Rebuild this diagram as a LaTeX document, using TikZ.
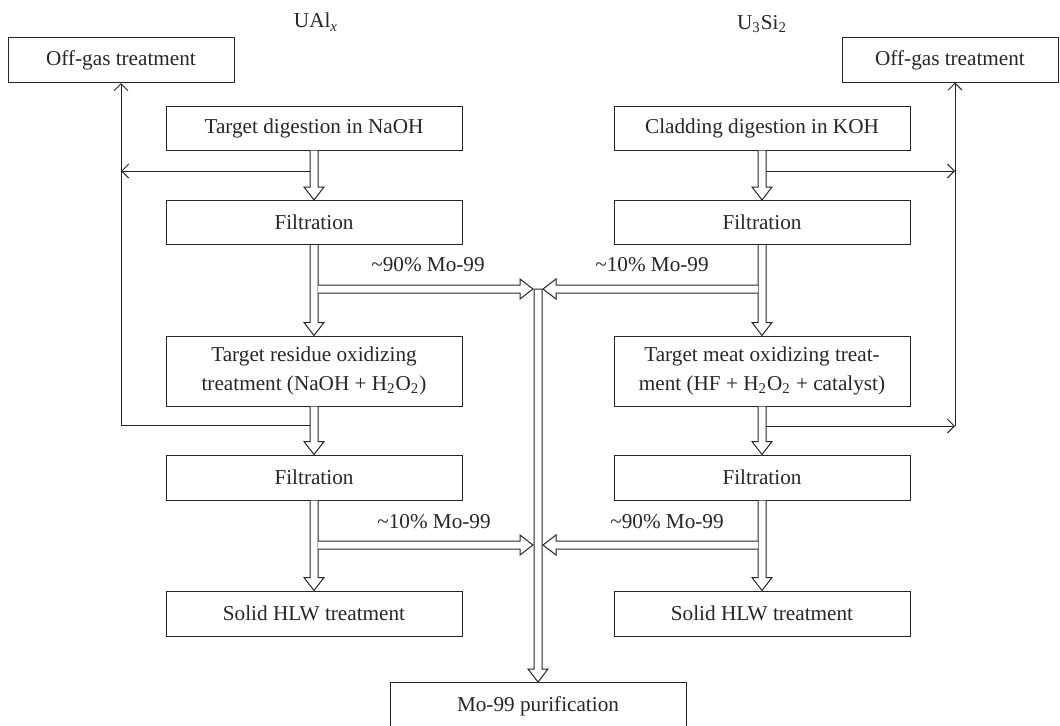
\documentclass[tikz,border=0pt]{standalone}
\usepackage{fontspec}
\setmainfont{Liberation Serif}
\usetikzlibrary{arrows.meta,calc}
\newcommand{\vdarrow}[2]{\draw[hollow] let \p1=(#1), \p2=(#2) in (\x1-2pt,\y1) -- (\x1-2pt,\y2+6.5pt) -- (\x1-5pt,\y2+6.5pt) -- (\x1,\y2) -- (\x1+5pt,\y2+6.5pt) -- (\x1+2pt,\y2+6.5pt) -- (\x1+2pt,\y1);}
\newcommand{\vdarrowc}[2]{\draw[hollow] let \p1=(#1), \p2=(#2) in (\x1-2pt,\y1) -- (\x1-2pt,\y2+6.5pt) -- (\x1-5pt,\y2+6.5pt) -- (\x1,\y2) -- (\x1+5pt,\y2+6.5pt) -- (\x1+2pt,\y2+6.5pt) -- (\x1+2pt,\y1) -- cycle;}
\newcommand{\rdarrow}[2]{\draw[hollow] let \p1=(#1), \p2=(#2) in (\x1,\y1+2pt) -- (\x2-6.5pt,\y1+2pt) -- (\x2-6.5pt,\y1+5pt) -- (\x2,\y1) -- (\x2-6.5pt,\y1-5pt) -- (\x2-6.5pt,\y1-2pt) -- (\x1,\y1-2pt);}
\newcommand{\ldarrow}[2]{\draw[hollow] let \p1=(#1), \p2=(#2) in (\x1,\y1+2pt) -- (\x2+6.5pt,\y1+2pt) -- (\x2+6.5pt,\y1+5pt) -- (\x2,\y1) -- (\x2+6.5pt,\y1-5pt) -- (\x2+6.5pt,\y1-2pt) -- (\x1,\y1-2pt);}
\begin{document}
\begin{tikzpicture}[x=0.5pt,y=-0.5pt, line width=0.5pt,
  box/.style={draw=black!85, line width=0.5pt, minimum width=148pt, minimum height=22pt, inner sep=0pt, align=center, text=black!85, font=\fontsize{10.6}{14.5}\selectfont},
  lbl/.style={font=\fontsize{10.6}{13}\selectfont, inner sep=0pt, text=black!85},
  thinarrow/.style={draw=black!85, line width=0.5pt, -{Straight Barb[length=3.5pt,width=7pt]}},
  hollow/.style={draw=black!85, fill=white, line width=0.5pt, line join=miter}]
\useasboundingbox (0,0) rectangle (1060,725);

% titles
\node[lbl] (tL) at (316,22) {UAl\textsubscript{\textit{x}}};
\node[lbl] (tR) at (762,24) {U\textsubscript{3}Si\textsubscript{2}};

% off-gas boxes
\node[box, minimum width=113pt, minimum height=22.5pt] (ogL) at (121,60) {Off-gas treatment};
\node[box, minimum width=108pt, minimum height=22.5pt] (ogR) at (950,60) {Off-gas treatment};

% left column
\node[box] (L1) at (314,128) {Target digestion in NaOH};
\node[box] (L2) at (314,222.5) {Filtration};
\node[box, minimum height=35pt] (L3) at (314,371) {Target residue oxidizing\\treatment (NaOH + H\textsubscript{2}O\textsubscript{2})};
\node[box, minimum height=22.5pt] (L4) at (314,477.5) {Filtration};
\node[box, minimum height=22.5pt] (L5) at (314,613.5) {Solid HLW treatment};

% right column
\node[box] (R1) at (762,128) {Cladding digestion in KOH};
\node[box] (R2) at (762,222.5) {Filtration};
\node[box, minimum height=35pt] (R3) at (762,371) {Target meat oxidizing treat-\\ment (HF + H\textsubscript{2}O\textsubscript{2} + catalyst)};
\node[box, minimum height=22.5pt] (R4) at (762,477.5) {Filtration};
\node[box, minimum height=22.5pt] (R5) at (762,613.5) {Solid HLW treatment};

% purification
\node[box, minimum height=24pt, anchor=north] (Mo) at (538,682) {Mo-99 purification};

% coordinates
\coordinate (ct) at (538,289);
\coordinate (hl1) at (318,289); \coordinate (cl1) at (533,289);
\coordinate (hr1) at (758,289); \coordinate (cr1) at (543,289);
\coordinate (hl2) at (318,545); \coordinate (cl2) at (533,545);
\coordinate (hr2) at (758,545); \coordinate (cr2) at (543,545);
\coordinate (tl1) at (310,171); \coordinate (vl1) at (121,171);
\coordinate (tl2) at (310,425); \coordinate (vl2) at (121,425);
\coordinate (tr1) at (766,171); \coordinate (vr1) at (955,171);
\coordinate (tr2) at (766,426); \coordinate (vr2) at (955,426);
\coordinate (ogRin) at (955,82.5);

% thin off-gas lines
\draw[thinarrow] (tl1) -- (vl1);
\draw[thinarrow] (tl2) -- (vl2) -- (ogL.south);
\draw[thinarrow] (tr1) -- (vr1);
\draw[thinarrow] (tr2) -- (vr2);
\draw[thinarrow] (vr2) -- (ogRin);

% vertical hollow arrows
\vdarrow{L1.south}{L2.north}
\vdarrow{L2.south}{L3.north}
\vdarrow{L3.south}{L4.north}
\vdarrow{L4.south}{L5.north}
\vdarrow{R1.south}{R2.north}
\vdarrow{R2.south}{R3.north}
\vdarrow{R3.south}{R4.north}
\vdarrow{R4.south}{R5.north}
\vdarrowc{ct}{Mo.north}

% horizontal hollow arrows
\rdarrow{hl1}{cl1}
\ldarrow{hr1}{cr1}
\rdarrow{hl2}{cl2}
\ldarrow{hr2}{cr2}

% labels
\node[lbl] (p1) at (428,265) {\textasciitilde90\% Mo-99};
\node[lbl] (p2) at (652,265) {\textasciitilde10\% Mo-99};
\node[lbl] (p3) at (434,522) {\textasciitilde10\% Mo-99};
\node[lbl] (p4) at (667,522) {\textasciitilde90\% Mo-99};
\end{tikzpicture}
\end{document}
